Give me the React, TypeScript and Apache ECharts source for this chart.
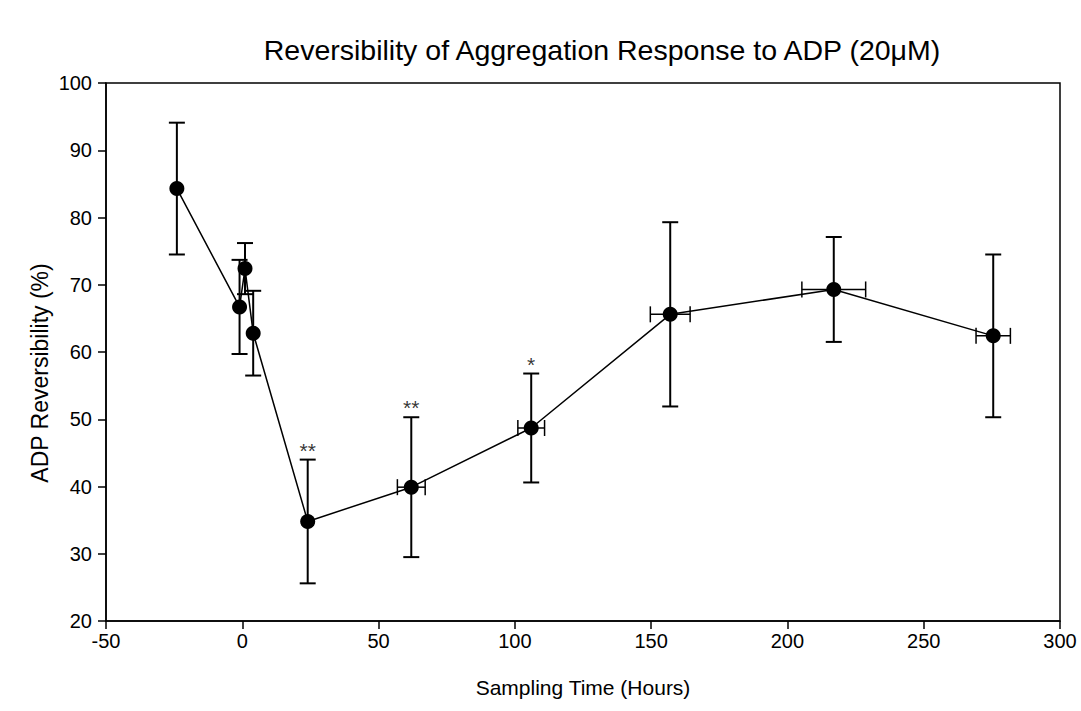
import React, { useEffect, useRef } from "react";
import * as echarts from "echarts";

const times = [-24, -1, 1, 4, 24, 62, 106, 157, 217, 275.5];
const values = [84.3, 66.7, 72.4, 62.8, 34.8, 39.9, 48.7, 65.6, 69.3, 62.4];
const yErr = [9.8, 7.0, 3.8, 6.3, 9.2, 10.4, 8.1, 13.7, 7.8, 12.1];
const xErr = [0, 0, 0, 0, 0, 5.1, 4.9, 7.3, 11.7, 6.3];
const marks = ["", "", "", "", "**", "**", "*", "", "", ""];

const FONT = "Liberation Sans, Arial, sans-serif";

export default function App() {
  const ref = useRef<HTMLDivElement>(null);
  useEffect(() => {
    if (!ref.current) return;
    const chart = echarts.init(ref.current, null, { renderer: "svg" });
    const errData = times.map((t, i) => [t, values[i], yErr[i], xErr[i]]);
    const annData = times
      .map((t, i) => ({ value: [t, values[i] + yErr[i]], txt: marks[i] }))
      .filter((d) => d.txt !== "");
    const cap = 8;
    chart.setOption({
      animation: false,
      backgroundColor: "#fff",
      title: {
        text: "Reversibility of Aggregation Response to ADP (20μM)",
        left: 597,
        top: 30,
        textAlign: "center",
        textStyle: { fontFamily: FONT, fontSize: 28.5, fontWeight: "normal", color: "#000" },
      },
      graphic: [
        {
          type: "text",
          x: 40,
          y: 373,
          rotation: Math.PI / 2,
          style: {
            text: "ADP Reversibility (%)",
            fontFamily: FONT,
            fontSize: 23,
            fill: "#000",
            textAlign: "center",
            textVerticalAlign: "middle",
          },
        },
      ],
      grid: { left: 106, right: 21, top: 83, bottom: 90, show: true, borderColor: "#000", borderWidth: 1.5 },
      xAxis: {
        type: "value",
        min: -50,
        max: 300,
        interval: 50,
        name: "Sampling Time (Hours)",
        nameLocation: "middle",
        nameGap: 56,
        nameTextStyle: { fontFamily: FONT, fontSize: 21, color: "#000" },
        axisLine: { show: true, onZero: false, lineStyle: { color: "#000", width: 1.5 } },
        axisTick: { show: true, inside: false, length: 8, lineStyle: { color: "#000", width: 1.5 } },
        axisLabel: { fontFamily: FONT, fontSize: 20, color: "#000", margin: 10 },
        splitLine: { show: false },
      },
      yAxis: {
        type: "value",
        min: 20,
        max: 100,
        interval: 10,
        axisLine: { show: true, onZero: false, lineStyle: { color: "#000", width: 1.5 } },
        axisTick: { show: true, inside: false, length: 8, lineStyle: { color: "#000", width: 1.5 } },
        axisLabel: { fontFamily: FONT, fontSize: 20, color: "#000", margin: 14 },
        splitLine: { show: false },
      },
      series: [
        {
          type: "custom",
          z: 2,
          data: errData,
          renderItem: (params: any, api: any) => {
            const x = api.value(0);
            const y = api.value(1);
            const ey = api.value(2);
            const ex = api.value(3);
            const top = api.coord([x, y + ey]);
            const bot = api.coord([x, y - ey]);
            const st = { stroke: "#000", lineWidth: 2 };
            const children: any[] = [
              { type: "line", shape: { x1: top[0], y1: top[1], x2: bot[0], y2: bot[1] }, style: st },
              { type: "line", shape: { x1: top[0] - cap, y1: top[1], x2: top[0] + cap, y2: top[1] }, style: st },
              { type: "line", shape: { x1: bot[0] - cap, y1: bot[1], x2: bot[0] + cap, y2: bot[1] }, style: st },
            ];
            if (ex > 0) {
              const l = api.coord([x - ex, y]);
              const r = api.coord([x + ex, y]);
              const s2 = { stroke: "#000", lineWidth: 1.5 };
              children.push(
                { type: "line", shape: { x1: l[0], y1: l[1], x2: r[0], y2: r[1] }, style: s2 },
                { type: "line", shape: { x1: l[0], y1: l[1] - cap, x2: l[0], y2: l[1] + cap }, style: s2 },
                { type: "line", shape: { x1: r[0], y1: r[1] - cap, x2: r[0], y2: r[1] + cap }, style: s2 }
              );
            }
            return { type: "group", children };
          },
        },
        {
          type: "line",
          z: 3,
          data: times.map((t, i) => [t, values[i]]),
          symbol: "circle",
          symbolSize: 15,
          itemStyle: { color: "#000" },
          lineStyle: { color: "#000", width: 1.5 },
        },
        {
          type: "scatter",
          z: 4,
          symbolSize: 0,
          itemStyle: { color: "#000" },
          data: annData.map((d) => ({ value: d.value, label: { formatter: d.txt } })),
          label: {
            show: true,
            position: "top",
            distance: -1,
            fontFamily: FONT,
            fontSize: 21,
            color: "#000",
          },
        },
      ],
    });
    return () => chart.dispose();
  }, []);
  return <div ref={ref} style={{ position: "fixed", left: 0, top: 0, width: 1081, height: 711 }} />;
}
